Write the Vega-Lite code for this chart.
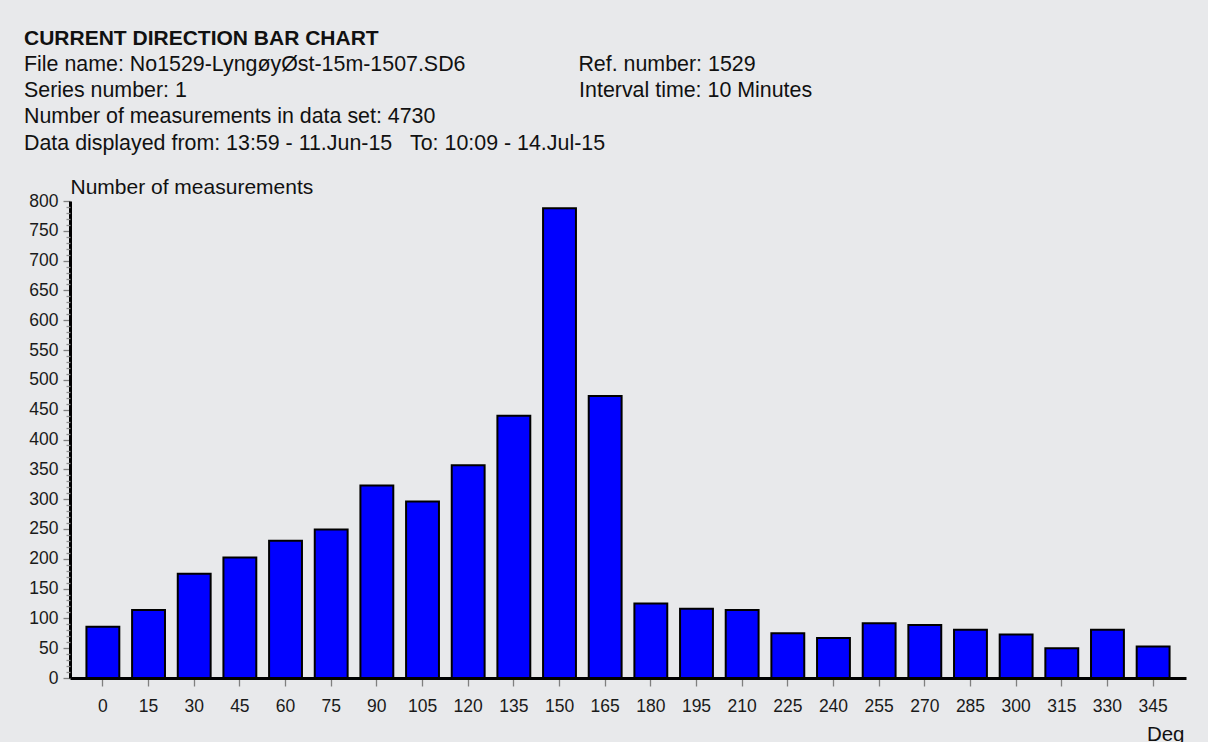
{
  "$schema": "https://vega.github.io/schema/vega-lite/v6.json",
  "width": 1116,
  "height": 477,
  "autosize": {"type": "none"},
  "padding": {"left": 70, "top": 201, "right": 22, "bottom": 64},
  "background": "#e8e9eb",
  "config": {"view": {"stroke": null}, "font": "Liberation Sans"},
  "title": {
    "text": "CURRENT DIRECTION BAR CHART",
    "subtitle": [
      "File name: No1529-LyngøyØst-15m-1507.SD6\u00a0\u00a0\u00a0\u00a0\u00a0\u00a0\u00a0\u00a0\u00a0\u00a0\u00a0\u00a0\u00a0\u00a0\u00a0\u00a0\u00a0\u00a0\u00a0Ref. number: 1529",
      "Series number: 1\u00a0\u00a0\u00a0\u00a0\u00a0\u00a0\u00a0\u00a0\u00a0\u00a0\u00a0\u00a0\u00a0\u00a0\u00a0\u00a0\u00a0\u00a0\u00a0\u00a0\u00a0\u00a0\u00a0\u00a0\u00a0\u00a0\u00a0\u00a0\u00a0\u00a0\u00a0\u00a0\u00a0\u00a0\u00a0\u00a0\u00a0\u00a0\u00a0\u00a0\u00a0\u00a0\u00a0\u00a0\u00a0\u00a0\u00a0\u00a0\u00a0\u00a0\u00a0\u00a0\u00a0\u00a0\u00a0\u00a0\u00a0\u00a0\u00a0\u00a0\u00a0\u00a0\u00a0\u00a0\u00a0\u00a0Interval time: 10 Minutes",
      "Number of measurements in data set: 4730",
      "Data displayed from: 13:59 - 11.Jun-15\u00a0\u00a0\u00a0To: 10:09 - 14.Jul-15"
    ],
    "anchor": "start",
    "frame": "group",
    "dx": -46,
    "font": "Liberation Sans",
    "fontSize": 21,
    "fontWeight": "bold",
    "color": "#111111",
    "subtitleFont": "Liberation Sans",
    "subtitleFontSize": 21.4,
    "subtitleColor": "#111111",
    "subtitleLineHeight": 26.3,
    "subtitlePadding": 5,
    "offset": 22
  },
  "data": {
    "values": [
      {"deg": 0, "count": 86},
      {"deg": 15, "count": 114},
      {"deg": 30, "count": 175},
      {"deg": 45, "count": 202},
      {"deg": 60, "count": 230},
      {"deg": 75, "count": 249},
      {"deg": 90, "count": 323},
      {"deg": 105, "count": 296},
      {"deg": 120, "count": 357},
      {"deg": 135, "count": 440},
      {"deg": 150, "count": 788},
      {"deg": 165, "count": 473},
      {"deg": 180, "count": 125},
      {"deg": 195, "count": 116},
      {"deg": 210, "count": 114},
      {"deg": 225, "count": 75},
      {"deg": 240, "count": 67},
      {"deg": 255, "count": 92},
      {"deg": 270, "count": 89},
      {"deg": 285, "count": 81},
      {"deg": 300, "count": 73},
      {"deg": 315, "count": 50},
      {"deg": 330, "count": 81},
      {"deg": 345, "count": 53}
    ]
  },
  "encoding": {
    "x": {
      "field": "deg",
      "type": "ordinal",
      "scale": {"paddingInner": 0.28, "paddingOuter": 0.36},
      "axis": {
        "title": "Deg",
        "labelAngle": 0,
        "labelFontSize": 17.5,
        "labelColor": "#1a1a1a",
        "labelPadding": 11,
        "tickColor": "#808080",
        "tickSize": 8,
        "tickWidth": 1.3,
        "domainColor": "#000000",
        "domainWidth": 3,
        "titleFontSize": 20.5,
        "titleFontWeight": "normal",
        "titleColor": "#111111",
        "titleAnchor": "end",
        "titleAlign": "right",
        "titleX": 1114,
        "titleY": 62,
        "titleBaseline": "alphabetic",
        "grid": false
      }
    }
  },
  "layer": [
    {
      "mark": {"type": "bar", "fill": "#0000ff", "stroke": "#000000", "strokeWidth": 2},
      "encoding": {
        "y": {
          "field": "count",
          "type": "quantitative",
          "scale": {"domain": [0, 800], "nice": false},
          "axis": {
            "title": "Number of measurements",
            "titleAngle": 0,
            "titleAlign": "left",
            "titleX": 0,
            "titleY": -8,
            "titleBaseline": "alphabetic",
            "titleFontSize": 21,
            "titleFontWeight": "normal",
            "titleColor": "#111111",
            "values": [0, 50, 100, 150, 200, 250, 300, 350, 400, 450, 500, 550, 600, 650, 700, 750, 800],
            "labelFontSize": 17.5,
            "labelColor": "#1a1a1a",
            "labelPadding": 5,
            "tickSize": 7,
            "tickColor": "#808080",
            "tickWidth": 1.3,
            "domainColor": "#000000",
            "domainWidth": 3,
            "grid": false
          }
        }
      }
    },
    {
      "mark": {"type": "bar", "opacity": 0},
      "encoding": {
        "y": {
          "field": "count",
          "type": "quantitative",
          "axis": {
            "orient": "left",
            "title": null,
            "labels": false,
            "domain": false,
            "grid": false,
            "values": [10, 20, 30, 40, 60, 70, 80, 90, 110, 120, 130, 140, 160, 170, 180, 190, 210, 220, 230, 240, 260, 270, 280, 290, 310, 320, 330, 340, 360, 370, 380, 390, 410, 420, 430, 440, 460, 470, 480, 490, 510, 520, 530, 540, 560, 570, 580, 590, 610, 620, 630, 640, 660, 670, 680, 690, 710, 720, 730, 740, 760, 770, 780, 790],
            "tickSize": 4,
            "tickColor": "#909090",
            "tickWidth": 1.3,
            "zindex": 1
          }
        }
      }
    }
  ],
  "resolve": {"axis": {"y": "independent"}}
}
